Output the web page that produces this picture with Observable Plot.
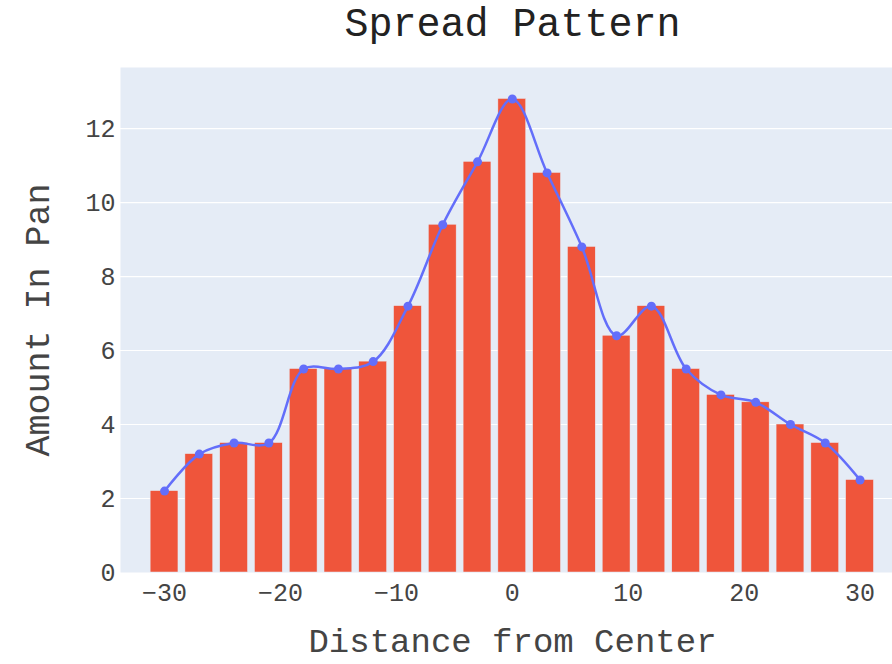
<!DOCTYPE html>
<html>
<head>
<meta charset="utf-8">
<script src="https://cdn.jsdelivr.net/npm/d3@7"></script>
<script src="https://cdn.jsdelivr.net/npm/@observablehq/plot@0.6"></script>
<style>
  html, body { margin: 0; padding: 0; background: #fff; }
  #chart svg { display: block; }
</style>
</head>
<body>
<div id="chart"></div>
<script>
const distances = [-30, -27, -24, -21, -18, -15, -12, -9, -6, -3, 0, 3, 6, 9, 12, 15, 18, 21, 24, 27, 30];
const amounts   = [2.2, 3.2, 3.5, 3.5, 5.5, 5.5, 5.7, 7.2, 9.4, 11.1, 12.8, 10.8, 8.8, 6.4, 7.2, 5.5, 4.8, 4.6, 4.0, 3.5, 2.5];
const xTicks = [-30, -20, -10, 0, 10, 20, 30];
const yTicks = [0, 2, 4, 6, 8, 10, 12];
const gridTicks = [2, 4, 6, 8, 10, 12];
const titleText = "Spread Pattern";
const xLabel = "Distance from Center";
const yLabel = "Amount In Pan";

const data = distances.map((x, i) => ({x, y: amounts[i]}));
const halfBar = 1.2;
const font = "'Liberation Mono', 'Courier New', monospace";

const chart = Plot.plot({
  width: 892,
  height: 664,
  marginTop: 67,
  marginBottom: 92,
  marginLeft: 120,
  marginRight: 0,
  style: {fontFamily: font, background: "#fff", overflow: "visible"},
  x: {domain: [-33.8, 32.8], ticks: xTicks, tickSize: 0, tickPadding: 11, label: null},
  y: {domain: [0, 13.65], ticks: yTicks, tickSize: 0, tickPadding: 5, label: null},
  marks: [
    Plot.frame({fill: "#E5ECF6", stroke: null}),
    Plot.gridY(gridTicks, {stroke: "#fff", strokeOpacity: 1, strokeWidth: 1.2}),
    Plot.rectY(data, {x1: d => d.x - halfBar, x2: d => d.x + halfBar, y1: 0, y2: "y", fill: "#EF553B", stroke: "#E5ECF6", strokeWidth: 0.5}),
    Plot.line(data, {x: "x", y: "y", stroke: "#636EFA", strokeWidth: 2.5, curve: "catmull-rom"}),
    Plot.dot(data, {x: "x", y: "y", r: 4.5, fill: "#636EFA", stroke: null}),
    Plot.axisX({ticks: xTicks, tickSize: 0, tickPadding: 11, fontSize: 25, fill: "#444", label: null}),
    Plot.axisY({ticks: yTicks, tickSize: 0, tickPadding: 5, fontSize: 25, fill: "#444", label: null}),
    Plot.text([titleText], {frameAnchor: "top", lineAnchor: "middle", dx: 6, dy: -44, fontSize: 40, fill: "#222", textAnchor: "middle"}),
    Plot.text([xLabel], {frameAnchor: "bottom", lineAnchor: "middle", dx: 6, dy: 69, fontSize: 34, fill: "#444", textAnchor: "middle"}),
    Plot.text([yLabel], {frameAnchor: "left", lineAnchor: "middle", dx: -83, rotate: -90, fontSize: 35, fill: "#444", textAnchor: "middle"})
  ]
});
document.getElementById("chart").appendChild(chart);
</script>
</body>
</html>
